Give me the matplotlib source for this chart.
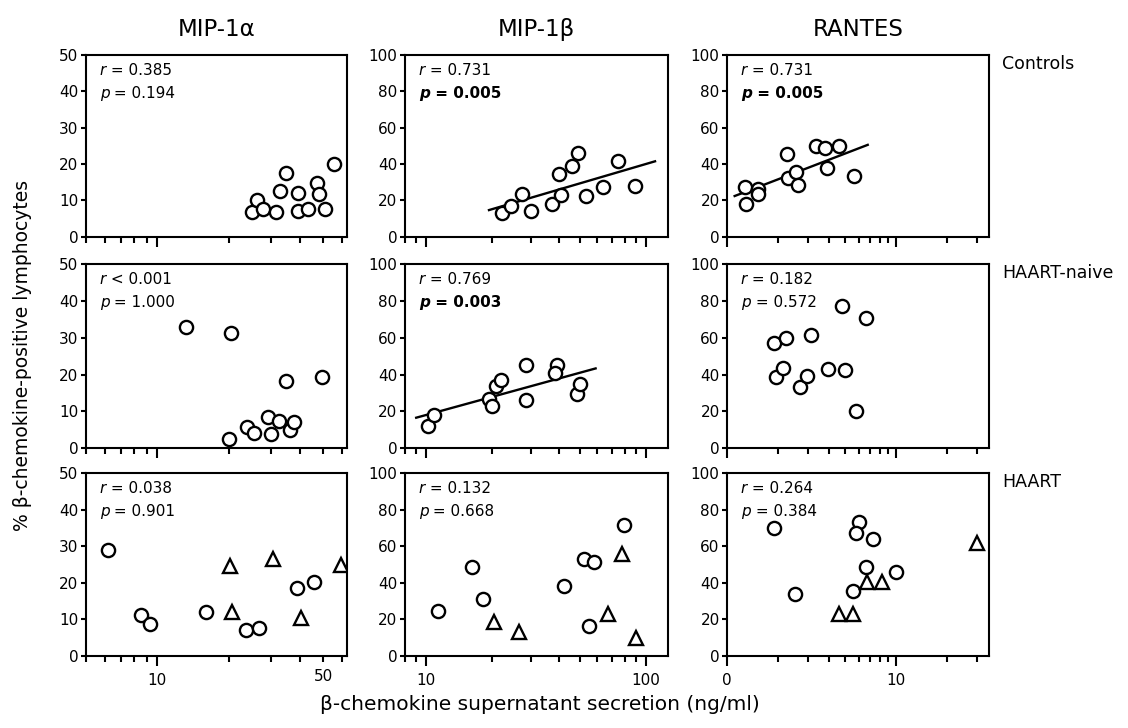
import matplotlib
matplotlib.use("Agg")
import matplotlib.pyplot as plt
import numpy as np

plt.rcParams['font.family'] = ['DejaVu Sans']

# columns / rows
columns = ['MIP-1\u03b1', 'MIP-1\u03b2', 'RANTES']
groups = ['Controls', 'HAART-naive', 'HAART']

# --- Controls ---
mip1a_ctrl_x = [25.1, 26.3, 27.8, 31.6, 32.8, 35.0, 39.1, 39.3, 43.2, 46.9, 48.1, 50.7, 55.8]
mip1a_ctrl_y = [6.7, 10.1, 7.6, 6.7, 12.7, 17.6, 12.1, 7.1, 7.5, 14.7, 11.7, 7.5, 19.9]

mip1b_ctrl_x = [22.1, 24.3, 27.4, 29.9, 37.4, 40.4, 41.1, 46.1, 49.0, 53.1, 64.0, 74.4, 89.1]
mip1b_ctrl_y = [12.8, 17.1, 23.5, 14.3, 18.0, 34.3, 22.9, 38.9, 45.9, 22.6, 27.5, 41.7, 28.1]

rantes_ctrl_x = [1.28, 1.29, 1.52, 1.52, 2.25, 2.30, 2.55, 2.63, 3.38, 3.79, 3.91, 4.58, 5.61]
rantes_ctrl_y = [27.2, 18.0, 26.2, 23.3, 45.5, 32.5, 35.8, 28.4, 49.9, 48.6, 38.0, 49.9, 33.6]

# --- HAART-naive ---
mip1a_naive_x = [13.2, 20.4, 20.0, 23.8, 25.6, 29.3, 30.1, 32.7, 34.7, 36.2, 37.7, 49.4]
mip1a_naive_y = [33.0, 31.4, 2.5, 5.7, 4.1, 8.6, 3.8, 7.4, 18.3, 5.0, 7.0, 19.4]

mip1b_naive_x = [10.2, 10.9, 19.4, 19.9, 20.8, 22.0, 28.4, 28.4, 39.2, 38.7, 48.3, 50.0]
mip1b_naive_y = [12.3, 18.3, 26.6, 22.9, 33.9, 37.1, 45.3, 26.2, 45.0, 40.9, 29.7, 34.9]

rantes_naive_x = [1.90, 2.22, 1.94, 2.13, 3.12, 2.72, 2.96, 3.95, 4.80, 5.01, 5.82, 6.64]
rantes_naive_y = [56.9, 59.6, 38.9, 43.7, 61.5, 33.4, 39.4, 43.1, 77.4, 42.6, 20.2, 70.6]

# --- HAART (circles and triangles) ---
mip1a_haart_circ_x = [6.18, 8.51, 9.31, 16.0, 23.6, 26.8, 38.8, 45.8]
mip1a_haart_circ_y = [29.0, 11.2, 8.8, 11.9, 7.1, 7.6, 18.7, 20.3]
mip1a_haart_tri_x = [20.2, 20.6, 30.6, 40.5, 59.2]
mip1a_haart_tri_y = [24.5, 12.1, 26.5, 10.3, 24.8]

mip1b_haart_circ_x = [11.3, 16.2, 18.1, 42.3, 52.3, 58.0, 55.1, 79.4]
mip1b_haart_circ_y = [24.5, 48.7, 31.2, 38.1, 52.9, 51.1, 16.4, 71.5]
mip1b_haart_tri_x = [20.3, 26.4, 67.0, 77.5, 89.8]
mip1b_haart_tri_y = [18.6, 13.2, 23.1, 55.6, 9.6]

rantes_haart_circ_x = [1.90, 2.51, 6.0, 5.82, 7.35, 6.64, 9.96, 5.53]
rantes_haart_circ_y = [70.0, 33.9, 73.3, 67.3, 64.1, 48.9, 45.7, 35.7]
rantes_haart_tri_x = [4.58, 5.56, 6.72, 8.24, 30.1]
rantes_haart_tri_y = [23.1, 23.1, 40.3, 40.3, 61.9]

# correlation text per panel (row, col)
r_text = [['= 0.385', '= 0.731', '= 0.731'],
          ['< 0.001', '= 0.769', '= 0.182'],
          ['= 0.038', '= 0.132', '= 0.264']]
p_text = [['= 0.194', '= 0.005', '= 0.005'],
          ['= 1.000', '= 0.003', '= 0.572'],
          ['= 0.901', '= 0.668', '= 0.384']]
p_bold = [[False, True, True],
          [False, True, False],
          [False, False, False]]

# regression line x-extent (only significant panels)
fit_span = {(0, 1): (19.3, 110), (0, 2): (1.11, 6.8), (1, 1): (9.0, 59)}

circles = [[(mip1a_ctrl_x, mip1a_ctrl_y), (mip1b_ctrl_x, mip1b_ctrl_y), (rantes_ctrl_x, rantes_ctrl_y)],
           [(mip1a_naive_x, mip1a_naive_y), (mip1b_naive_x, mip1b_naive_y), (rantes_naive_x, rantes_naive_y)],
           [(mip1a_haart_circ_x, mip1a_haart_circ_y), (mip1b_haart_circ_x, mip1b_haart_circ_y),
            (rantes_haart_circ_x, rantes_haart_circ_y)]]
triangles = [(mip1a_haart_tri_x, mip1a_haart_tri_y), (mip1b_haart_tri_x, mip1b_haart_tri_y),
             (rantes_haart_tri_x, rantes_haart_tri_y)]

# axis settings per column
xlims = [(5, 63), (8, 126), (1, 35.5)]
ylims = [(0, 50), (0, 100), (0, 100)]
yticks = [np.arange(0, 51, 10), np.arange(0, 101, 20), np.arange(0, 101, 20)]
xmajor = [[10], [10, 100], [1, 10]]
xmajor_lab = [['10'], ['10', '100'], ['0', '10']]
xminor = [[5, 6, 7, 8, 9, 20, 30, 40, 50, 60],
          [8, 9, 20, 30, 40, 50, 60, 70, 80, 90],
          [2, 3, 4, 5, 6, 7, 8, 9, 20, 30]]
xminor_lab = [['', '', '', '', '', '', '', '', '50', ''],
              [''] * 10,
              [''] * 10]

fig = plt.figure(figsize=(11.28, 7.28), dpi=100)

col_left = [0.0762, 0.3590, 0.6445]
col_w = [0.2314, 0.2332, 0.2323]
row_bot = [0.6749, 0.3842, 0.0989]
row_h = [0.2496, 0.2532, 0.2514]

for i in range(3):
    for j in range(3):
        ax = fig.add_axes([col_left[j], row_bot[i], col_w[j], row_h[i]])
        ax.set_xscale('log')

        # regression line
        if (i, j) in fit_span:
            cx, cy = circles[i][j]
            k, b = np.polyfit(np.log10(cx), cy, 1)
            lx = np.array(fit_span[(i, j)])
            ax.plot(lx, k * np.log10(lx) + b, color='black', lw=1.7, zorder=2)

        cx, cy = circles[i][j]
        ax.plot(cx, cy, linestyle='none', marker='o', ms=9.5, mfc='white',
                mec='black', mew=1.7, zorder=3)
        if i == 2:
            tx, ty = triangles[j]
            ax.plot(tx, ty, linestyle='none', marker='^', ms=10.5, mfc='white',
                    mec='black', mew=1.7, zorder=3)

        ax.set_xlim(xlims[j])
        ax.set_ylim(ylims[j])
        ax.set_yticks(yticks[j])
        ax.set_xticks(xmajor[j], labels=xmajor_lab[j])
        ax.set_xticks(xminor[j], labels=xminor_lab[j], minor=True)

        for sp in ax.spines.values():
            sp.set_linewidth(1.5)
        ax.tick_params(axis='y', which='major', direction='out', length=3.8, width=1.5,
                       labelsize=11, pad=1.5)
        ax.tick_params(axis='x', which='major', direction='out', length=7, width=1.5,
                       labelsize=11, pad=5)
        ax.tick_params(axis='x', which='minor', direction='out', length=4.5, width=1.5,
                       labelsize=11, pad=5)
        if i < 2:
            ax.tick_params(axis='x', which='both', labelbottom=False)

        # r / p annotations
        bold = 'bold' if p_bold[i][j] else 'normal'
        t1 = ax.annotate('r', xy=(0, 1), xycoords='axes fraction', xytext=(10, -5.5),
                         textcoords='offset points', va='top', ha='left',
                         fontsize=11, style='italic')
        ax.annotate(' ' + r_text[i][j], xy=(1, 0), xycoords=t1, va='bottom', ha='left',
                    fontsize=11)
        t2 = ax.annotate('p', xy=(0, 1), xycoords='axes fraction', xytext=(10, -22),
                         textcoords='offset points', va='top', ha='left',
                         fontsize=11, style='italic', weight=bold)
        ax.annotate(' ' + p_text[i][j], xy=(1, 0), xycoords=t2, va='bottom', ha='left',
                    fontsize=11, weight=bold)

        if i == 0:
            ax.set_title(columns[j], fontsize=16.5, pad=14)
        if j == 2:
            ax.text(1.05, 1.0, groups[i], transform=ax.transAxes, va='top', ha='left',
                    fontsize=12.5)

fig.text(0.02, 0.512, '% \u03b2-chemokine-positive lymphocytes', rotation=90,
         ha='center', va='center', fontsize=13.5)
fig.text(0.479, 0.032, '\u03b2-chemokine supernatant secretion (ng/ml)',
         ha='center', va='center', fontsize=14.5)

plt.savefig('out.png', dpi=100)
